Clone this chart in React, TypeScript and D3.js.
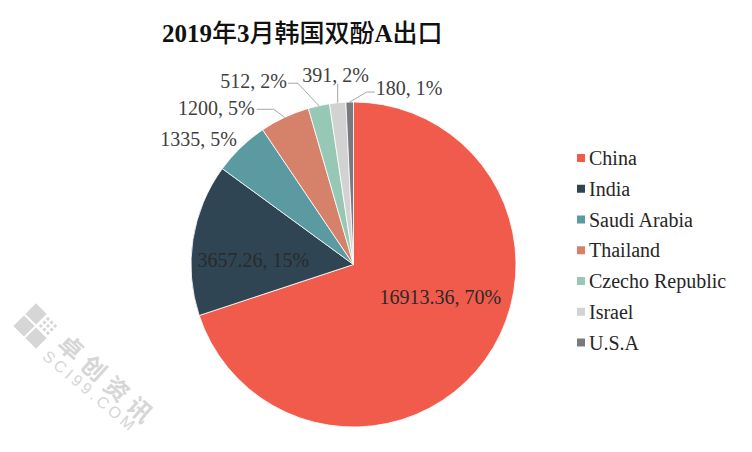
import React from "react";
import * as d3 from "d3";

const title = "2019年3月韩国双酚A出口";
const countries = ["China", "India", "Saudi Arabia", "Thailand", "Czecho Republic", "Israel", "U.S.A"];
const values = [16913.36, 3657.26, 1335, 1200, 512, 391, 180];
const percentLabels = ["70%", "15%", "5%", "5%", "2%", "2%", "1%"];
const colors = ["#F15B4C", "#2F4554", "#5B9AA0", "#D6826A", "#97C8B5", "#D2D2D2", "#7A7A7E"];

// label placement (layout only)
const labelLayout = [
  { kind: "in", dx: 21, dy: -15 },
  { kind: "in", dx: -20, dy: 8 },
  { kind: "out", bx: 0, by: 0, hx: 0, line: false, tx: -4, ty: -1, anchor: "end" },
  { kind: "out", bx: -11, by: -8, hx: -17, line: true, tx: -2, ty: 6, anchor: "end" },
  { kind: "out", bx: -21, by: -22.5, hx: -10, line: true, tx: -1, ty: 5, anchor: "end" },
  { kind: "out", bx: 0, by: -19, hx: 0, line: true, tx: -2, ty: -2, anchor: "middle" },
  { kind: "out", bx: 17, by: -10, hx: 8, line: true, tx: 1, ty: 3, anchor: "start" },
];

const W = 752;
const H = 452;
const cx = 353.5;
const cy = 264.5;
const R = 162.5;
const FONT = "'Liberation Serif', 'Noto Sans CJK SC', serif";

function splitRuns(s: string) {
  const runs: { t: string; cjk: boolean }[] = [];
  for (const ch of s) {
    const cjk = /[\u4e00-\u9fff]/.test(ch);
    const last = runs[runs.length - 1];
    if (last && last.cjk === cjk) last.t += ch;
    else runs.push({ t: ch, cjk });
  }
  return runs;
}

export default function App() {
  const pie = d3.pie<number>().sort(null).startAngle(0).endAngle(2 * Math.PI);
  const arcs = pie(values);
  const arc = d3.arc<d3.PieArcDatum<number>>().innerRadius(0).outerRadius(R);

  const legendY = d3.scalePoint<string>().domain(countries).range([158.5, 343]);

  return (
    <div style={{ margin: -8 }}>
      <svg width={W} height={H} style={{ display: "block", background: "#fff" }}>
        <rect x={1.5} y={1.5} width={W - 3} height={H - 3} fill="#fff" stroke="#808080" strokeWidth={3} />
        {/* watermark */}
        <g fill="#d6d6d6">
          <g transform="translate(36,326) rotate(45)">
            <rect x={-16} y={-16} width={15} height={15} />
            <rect x={-16} y={1} width={15} height={15} />
            <rect x={1} y={1} width={15} height={15} />
            {[0, 1, 2].map((i) =>
              [0, 1, 2].map((j) => (
                <rect key={`${i}-${j}`} x={2 + i * 5} y={-15 + j * 5} width={3} height={3} />
              ))
            )}
          </g>
          <text
            transform="translate(56,346) rotate(42)"
            fontFamily="'Noto Sans CJK SC', sans-serif"
            fontSize={24}
            fontWeight="bold"
            letterSpacing={7}
          >
            卓创资讯
          </text>
          <text
            transform="translate(41.5,358) rotate(40)"
            fontFamily="'Liberation Sans', sans-serif"
            fontSize={16}
            letterSpacing={3.5}
          >
            SCI99.COM
          </text>
        </g>

        <text x={162} y={42} fontFamily={FONT} fontSize={25} fill="#111">
          {splitRuns(title).map((r, i) =>
            r.cjk ? (
              <tspan key={i} fontFamily="'Noto Sans CJK SC', sans-serif" fontWeight={500}>
                {r.t}
              </tspan>
            ) : (
              <tspan key={i} fontWeight="bold">
                {r.t}
              </tspan>
            )
          )}
        </text>

        <g transform={`translate(${cx},${cy})`}>
          {arcs.map((a, i) => (
            <path key={i} d={arc(a) || ""} fill={colors[i]} stroke="#fff" strokeWidth={0.8} />
          ))}
        </g>

        {arcs.map((a, i) => {
          const lay: any = labelLayout[i];
          const text = `${values[i]}, ${percentLabels[i]}`;
          const mid = (a.startAngle + a.endAngle) / 2;
          if (lay.kind === "in") {
            const [x0, y0] = arc.centroid(a);
            const x = cx + x0 + lay.dx;
            const y = cy + y0 + lay.dy;
            return (
              <text key={i} x={x} y={y + 7} textAnchor="middle" fontFamily={FONT} fontSize={20} fill="#2a2a2a">
                {text}
              </text>
            );
          }
          const ex = cx + R * Math.sin(mid);
          const ey = cy - R * Math.cos(mid);
          const bx = ex + lay.bx;
          const by = ey + lay.by;
          const hx = bx + lay.hx;
          return (
            <g key={i}>
              {lay.line && (
                <polyline
                  points={`${ex},${ey} ${bx},${by} ${hx},${by}`}
                  fill="none"
                  stroke="#a6a6a6"
                  strokeWidth={1}
                />
              )}
              <text x={hx + lay.tx} y={by + lay.ty} textAnchor={lay.anchor} fontFamily={FONT} fontSize={20} fill="#404040">
                {text}
              </text>
            </g>
          );
        })}

        {countries.map((c, i) => {
          const y = legendY(c) as number;
          return (
            <g key={c}>
              <rect x={577} y={y - 4.5} width={8} height={8} fill={colors[i]} />
              <text x={589} y={y + 6.5} fontFamily={FONT} fontSize={20} fill="#262626">
                {c}
              </text>
            </g>
          );
        })}
      </svg>
    </div>
  );
}
